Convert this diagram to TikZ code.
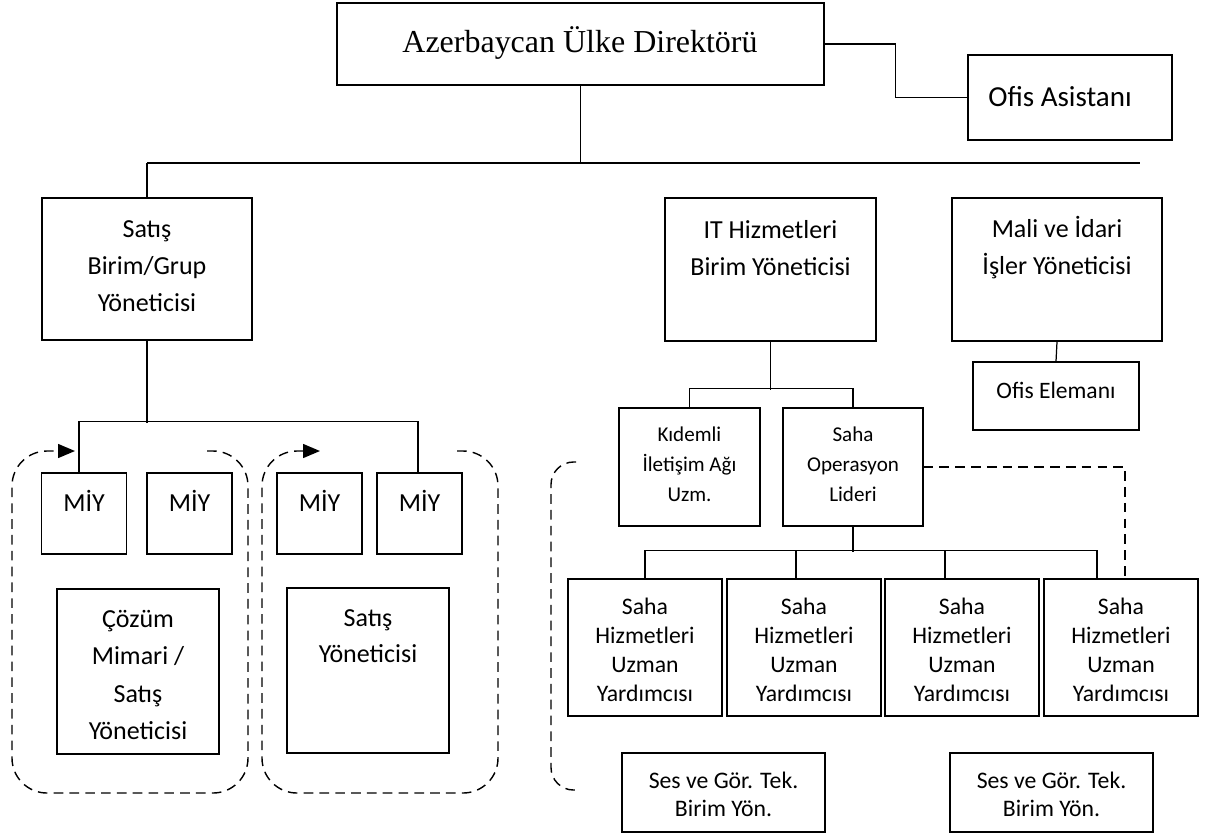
\documentclass[tikz,border=0pt]{standalone}
\usepackage{fontspec}
\setmainfont{Carlito}
\newfontfamily\timesfont{Liberation Serif}
\usetikzlibrary{arrows.meta}

\begin{document}
\begin{tikzpicture}[x=0.02cm,y=-0.02cm,line width=0.7pt,
    box/.style={draw, inner sep=0pt},
    lbl/.style={align=center, inner sep=0pt},
    lblbig/.style={lbl, font=\fontsize{14.8}{21}\selectfont},
    lblsaha/.style={lbl, font=\fontsize{13.5}{16.5}\selectfont},
    lblsmall/.style={lbl, font=\fontsize{12}{17}\selectfont},
    grp/.style={line width=0.8pt, dash pattern=on 5.5pt off 3.5pt}]
  \useasboundingbox (0,0) rectangle (1219,836);

  \node[box, minimum width=9.74cm, minimum height=1.64cm] (dir) at (580.5,44) {};
  \node[lbl, font=\timesfont\fontsize{18.2}{22}\selectfont] (dirtxt) at (580,43) {Azerbaycan Ülke Direktörü};
  \node[box, minimum width=4.08cm, minimum height=1.70cm] (asist) at (1070,97.5) {};
  \node[lbl, font=\fontsize{16.5}{20}\selectfont] (asisttxt) at (1060,97) {Ofis Asistanı};

  \node[box, minimum width=4.20cm, minimum height=2.84cm] (satis) at (147,269) {};
  \node[lblbig] (satistxt) at (147,266) {Satış\\Birim/Grup\\Yöneticisi};
  \node[box, minimum width=4.22cm, minimum height=2.86cm] (it) at (770.5,269.5) {};
  \node[lblbig] (ittxt) at (770.5,248) {IT Hizmetleri\\Birim Yöneticisi};
  \node[box, minimum width=4.20cm, minimum height=2.86cm] (mali) at (1057,269.5) {};
  \node[lblbig] (malitxt) at (1057,248) {Mali ve İdari\\İşler Yöneticisi};
  \node[box, minimum width=3.32cm, minimum height=1.36cm] (elem) at (1056,396) {};
  \node[lbl, font=\fontsize{13.4}{16}\selectfont] (elemtxt) at (1056,390) {Ofis Elemanı};

  \node[box, minimum width=2.82cm, minimum height=2.36cm] (kid) at (689.5,467) {};
  \node[lblsmall] (kidtxt) at (689.5,464) {Kıdemli\\İletişim Ağı\\Uzm.};
  \node[box, minimum width=2.80cm, minimum height=2.36cm] (sop) at (853,467) {};
  \node[lblsmall] (soptxt) at (853,464) {Saha\\Operasyon\\Lideri};

  \foreach \i/\x in {1/645,2/804,3/962,4/1121}{
    \node[box, minimum width=3.08cm, minimum height=2.74cm] (sh\i) at (\x,647.5) {};
    \node[lblsaha] (sh\i txt) at (\x,650) {Saha\\Hizmetleri\\Uzman\\Yardımcısı};
  }
  \foreach \i/\x in {1/723.5,2/1051.5}{
    \node[box, minimum width=4.06cm, minimum height=1.58cm] (ses\i) at (\x,792.5) {};
    \node[lbl, font=\fontsize{13.5}{16}\selectfont] (ses\i txt) at (\x,794) {Ses ve Gör. Tek.\\Birim Yön.};
  }

  \foreach \i/\x in {1/84,2/189.5,3/319.5,4/419.5}{
    \node[box, minimum width=1.70cm, minimum height=1.62cm] (miy\i) at (\x,513.5) {};
    \node[lblbig] (miy\i txt) at (\x,501) {MİY};
  }
  \node[box, minimum width=3.24cm, minimum height=3.30cm] (coz) at (138,671.5) {};
  \node[lbl, font=\fontsize{14.8}{21.4}\selectfont] (coztxt) at (138,675) {Çözüm\\Mimari /\\Satış\\Yöneticisi};
  \node[box, minimum width=3.24cm, minimum height=3.30cm] (sy) at (368,670.5) {};
  \node[lbl, font=\fontsize{14.8}{20.5}\selectfont] (sytxt) at (368,636) {Satış\\Yöneticisi};

  \coordinate (busL) at (147,163);
  \coordinate (busR) at (1140,163);
  \draw[line width=0.9pt] (busL) -- (busR);
  \draw (dir.south) -- (dir.south |- busL);
  \draw (busL) -- (satis.north);
  \draw (dir.east) -- ++(71,0) |- (asist.west);

  \draw (satis.south) -- ++(0,82);
  \draw ([xshift=-0.1cm]miy1.north) -- ++(0,-51) -| ([xshift=-0.03cm]miy4.north);

  \draw (it.south) -- ++(0,48);
  \draw (kid.north) -- ++(0,-19) -| (sop.north);
  \draw (sop.south) -- ++(0,25);
  \draw (sh1.north) -- ++(0,-28) -| ([xshift=-0.48cm]sh4.north);
  \draw ([xshift=-0.16cm]sh2.north) -- ++(0,-28);
  \draw ([xshift=-0.34cm]sh3.north) -- ++(0,-28);
  \draw[grp] (sop.east) -| ([xshift=0.08cm]sh4.north);
  \draw (mali.south) -- (elem.north);

  \draw[grp, rounded corners=0.7cm, -{Triangle[length=0.34cm,width=0.28cm]}] (207,451) -- (248,451) -- (248,793) -- (12,793) -- (12,451) -- (75,451);
  \draw[grp, rounded corners=0.7cm, -{Triangle[length=0.34cm,width=0.28cm]}] (457,451) -- (498,451) -- (498,793) -- (262,793) -- (262,451) -- (320,451);
  \draw[grp, rounded corners=0.45cm] (576,462) -- (551,462) -- (551,790) -- (576,790);
\end{tikzpicture}
\end{document}
